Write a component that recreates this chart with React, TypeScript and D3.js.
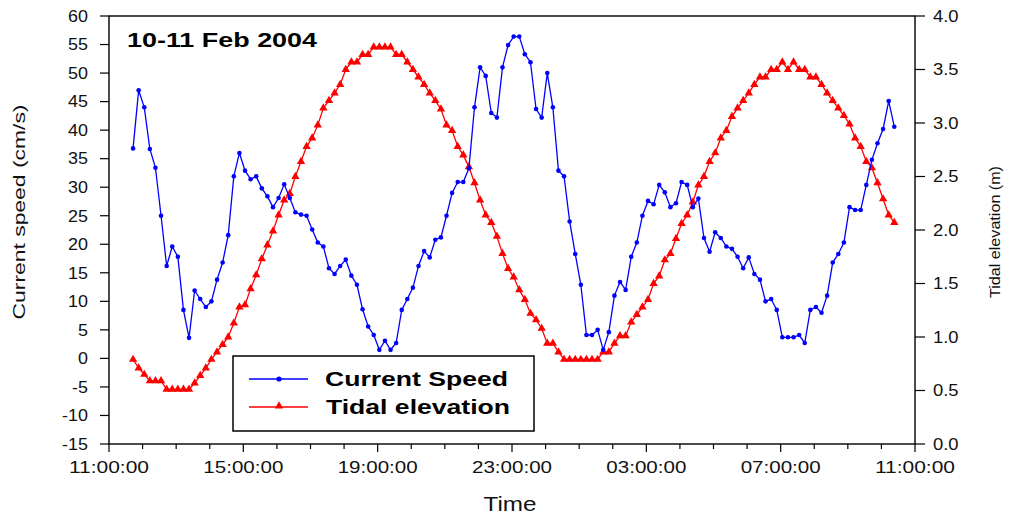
import React from "react";
import * as d3 from "d3";

// ---- data (10-minute samples starting 11:43, 10 Feb 2004) ----
const startTime = new Date(2004, 1, 10, 11, 43);
const stepMinutes = 10;

const currentSpeed = [
  36.8, 47.0, 44.0, 36.7, 33.4, 25.0, 16.2, 19.6, 17.8, 8.5,
  3.6, 11.9, 10.4, 9.0, 10.0, 13.8, 16.8, 21.6, 31.9, 36.0,
  32.9, 31.4, 31.9, 29.8, 28.4, 26.5, 28.1, 30.5, 28.1, 25.6,
  25.2, 25.0, 22.6, 20.3, 19.6, 15.8, 14.8, 16.2, 17.3, 14.5,
  12.9, 8.6, 5.6, 4.1, 1.5, 3.1, 1.5, 2.7, 8.5, 10.4,
  12.4, 16.2, 18.8, 17.7, 20.8, 21.2, 25.0, 29.0, 30.9, 30.9,
  33.3, 44.0, 51.0, 49.5, 43.0, 42.2, 51.0, 54.9, 56.4, 56.4,
  53.3, 51.9, 43.7, 42.2, 50.0, 44.0, 32.9, 31.9, 24.0, 18.3,
  12.9, 4.1, 4.1, 5.0, 1.5, 4.6, 11.0, 13.4, 12.0, 17.8,
  20.3, 25.0, 27.6, 27.0, 30.4, 29.1, 26.5, 27.2, 30.9, 30.4,
  26.5, 28.0, 21.1, 18.7, 22.1, 21.1, 19.6, 19.2, 17.8, 15.8,
  17.7, 14.8, 13.8, 10.0, 10.4, 8.5, 3.7, 3.7, 3.7, 4.1,
  2.7, 8.5, 9.0, 8.0, 11.0, 16.8, 18.3, 20.3, 26.5, 26.0,
  26.0, 30.4, 34.8, 37.7, 40.2, 45.1, 40.6,
];

const tidalElevation = [
  0.79, 0.71, 0.65, 0.59, 0.59, 0.59, 0.51, 0.51, 0.51, 0.51,
  0.51, 0.57, 0.64, 0.71, 0.79, 0.86, 0.93, 1.0, 1.13, 1.28,
  1.3, 1.45, 1.58, 1.73, 1.86, 1.99, 2.14, 2.28, 2.34, 2.5,
  2.64, 2.78, 2.86, 2.98, 3.14, 3.21, 3.28, 3.36, 3.5, 3.57,
  3.57, 3.64, 3.64, 3.71, 3.71, 3.71, 3.71, 3.64, 3.64, 3.57,
  3.5, 3.43, 3.36, 3.28, 3.21, 3.13, 2.98, 2.93, 2.78, 2.7,
  2.59, 2.44, 2.28, 2.14, 2.07, 1.94, 1.78, 1.64, 1.56, 1.44,
  1.35, 1.22, 1.16, 1.08, 0.94, 0.94, 0.86, 0.79, 0.79, 0.79,
  0.79, 0.79, 0.79, 0.79, 0.86, 0.86, 0.94, 1.01, 1.01, 1.14,
  1.21, 1.28, 1.35, 1.5, 1.57, 1.72, 1.78, 1.92, 2.06, 2.14,
  2.26, 2.42, 2.5, 2.64, 2.72, 2.86, 2.93, 3.06, 3.14, 3.21,
  3.28, 3.36, 3.43, 3.43, 3.5, 3.5, 3.57, 3.5, 3.57, 3.5,
  3.5, 3.43, 3.43, 3.36, 3.28, 3.21, 3.14, 3.07, 2.99, 2.86,
  2.78, 2.64, 2.58, 2.44, 2.29, 2.14, 2.07,
];

const leftTicks = [-15, -10, -5, 0, 5, 10, 15, 20, 25, 30, 35, 40, 45, 50, 55, 60];
const rightTicks = [0, 0.5, 1, 1.5, 2, 2.5, 3, 3.5, 4];
const xDomain = [new Date(2004, 1, 10, 11, 0), new Date(2004, 1, 11, 11, 0)];
const xLabelEveryHours = 4;

const title = "10-11 Feb 2004";
const seriesNames = ["Current Speed", "Tidal elevation"];
const leftAxisTitle = "Current speed (cm/s)";
const rightAxisTitle = "Tidal elevation (m)";
const xAxisTitle = "Time";

const FONT = "'Liberation Sans', Arial, Helvetica, sans-serif";
const BLUE = "#0000ff";
const RED = "#ff0000";

export default function App() {
  const W = 1012;
  const H = 515;
  const L = 109, R = 915, T = 16, B = 444;

  const x = d3.scaleTime().domain(xDomain).range([L, R]);
  const yL = d3.scaleLinear().domain([-15, 60]).range([B, T]);
  const yR = d3.scaleLinear().domain([0, 4]).range([B, T]);

  const times = currentSpeed.map(
    (_, i) => new Date(startTime.getTime() + i * stepMinutes * 60000)
  );

  const speedLine = d3
    .line<number>()
    .x((_, i) => x(times[i]))
    .y((d) => yL(d));
  const tideLine = d3
    .line<number>()
    .x((_, i) => x(times[i]))
    .y((d) => yR(d));

  const tri = d3.symbol(d3.symbolTriangle, 30)() as string;

  const hourTicks = d3.timeHour.range(xDomain[0], new Date(xDomain[1].getTime() + 1));
  const majorTicks = hourTicks.filter((_, i) => i % xLabelEveryHours === 0);
  const fmt = d3.timeFormat("%H:%M:%S");

  return (
    <svg
      width={W}
      height={H}
      style={{ position: "absolute", left: 0, top: 0, background: "#fff" }}
      fontFamily={FONT}
    >
      <rect x={0} y={0} width={W} height={H} fill="#fff" />

      {/* frame */}
      <rect x={L} y={T} width={R - L} height={B - T} fill="none" stroke="#000" strokeWidth={1.4} />

      {/* left ticks & labels */}
      {leftTicks.map((v) => (
        <g key={"l" + v}>
          <line x1={L - 9} x2={L} y1={yL(v)} y2={yL(v)} stroke="#000" strokeWidth={1.2} />
          <g transform={`translate(88,${yL(v)}) scale(1.12,1)`}>
            <text x={0} y={0} dy="0.36em" textAnchor="end" fontSize={16} fill="#111">
              {String(v)}
            </text>
          </g>
        </g>
      ))}

      {/* right ticks & labels */}
      {rightTicks.map((v) => (
        <g key={"r" + v}>
          <line x1={R} x2={R + 10} y1={yR(v)} y2={yR(v)} stroke="#000" strokeWidth={1.2} />
          <g transform={`translate(933,${yR(v)}) scale(1.15,1)`}>
            <text x={0} y={0} dy="0.36em" textAnchor="start" fontSize={16} fill="#111">
              {v.toFixed(1)}
            </text>
          </g>
        </g>
      ))}

      {/* bottom ticks */}
      {hourTicks.map((t, i) => {
        const major = i % xLabelEveryHours === 0;
        return (
          <line
            key={"h" + t.getTime()}
            x1={x(t)}
            x2={x(t)}
            y1={B}
            y2={B + (major ? 8 : 5)}
            stroke="#000"
            strokeWidth={1.2}
          />
        );
      })}
      {majorTicks.map((t) => (
        <text
          key={"m" + t.getTime()}
          x={x(t)}
          y={473}
          textAnchor="middle"
          fontSize={16}
          textLength={80}
          lengthAdjust="spacingAndGlyphs"
          fill="#111"
        >
          {fmt(t)}
        </text>
      ))}

      {/* axis titles */}
      <text
        transform={`translate(25,212) rotate(-90)`}
        textAnchor="middle"
        fontSize={17}
        textLength={215}
        lengthAdjust="spacingAndGlyphs"
        fill="#111"
      >
        {leftAxisTitle}
      </text>
      <text
        transform={`translate(1000,232) rotate(-90)`}
        textAnchor="middle"
        fontSize={14}
        textLength={132}
        lengthAdjust="spacingAndGlyphs"
        fill="#111"
      >
        {rightAxisTitle}
      </text>
      <text x={510} y={511} textAnchor="middle" fontSize={20} textLength={53} lengthAdjust="spacingAndGlyphs" fill="#111">
        {xAxisTitle}
      </text>

      {/* title */}
      <text x={127} y={47} fontSize={21} fontWeight="bold" textLength={190} lengthAdjust="spacingAndGlyphs" fill="#000">
        {title}
      </text>

      {/* series */}
      <path d={tideLine(tidalElevation) || ""} fill="none" stroke={RED} strokeWidth={1.3} />
      {tidalElevation.map((v, i) => (
        <path key={"t" + i} d={tri} transform={`translate(${x(times[i])},${yR(v)})`} fill={RED} />
      ))}
      <path d={speedLine(currentSpeed) || ""} fill="none" stroke={BLUE} strokeWidth={1.3} />
      {currentSpeed.map((v, i) => (
        <circle key={"s" + i} cx={x(times[i])} cy={yL(v)} r={2.3} fill={BLUE} />
      ))}

      {/* legend */}
      <rect x={233} y={356} width={301} height={75} fill="#fff" stroke="#000" strokeWidth={1.5} />
      <line x1={249} x2={308} y1={379} y2={379} stroke={BLUE} strokeWidth={1.3} />
      <circle cx={279} cy={379} r={2.6} fill={BLUE} />
      <text x={325} y={386} fontSize={20} fontWeight="bold" textLength={183} lengthAdjust="spacingAndGlyphs" fill="#000">
        {seriesNames[0]}
      </text>
      <line x1={249} x2={308} y1={407} y2={407} stroke={RED} strokeWidth={1.3} />
      <path d={tri} transform="translate(279,406)" fill={RED} />
      <text x={326} y={414} fontSize={20} fontWeight="bold" textLength={184} lengthAdjust="spacingAndGlyphs" fill="#000">
        {seriesNames[1]}
      </text>
    </svg>
  );
}
